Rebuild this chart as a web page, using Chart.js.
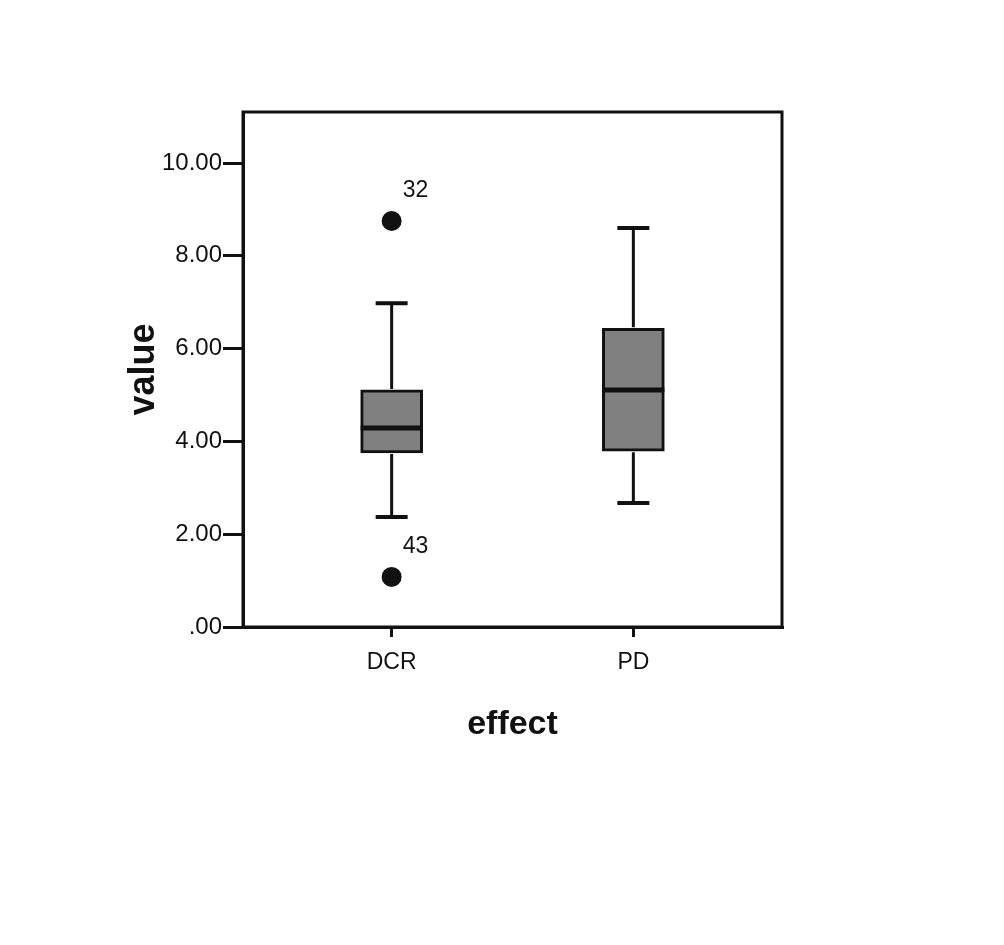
<!DOCTYPE html>
<html>
<head>
<meta charset="utf-8">
<script src="https://cdn.jsdelivr.net/npm/chart.js@4"></script>
<style>
    html, body { margin: 0; padding: 0; background: #fff; }
    #wrap { width: 1004px; height: 945px; }
</style>
</head>
<body>
<div id="wrap"><canvas id="boxChart" width="1004" height="945"></canvas></div>
<script>
// box plot summary per group
const groups = ['DCR', 'PD'];
const whiskerLow = [2.37, 2.67];
const q1 = [3.75, 3.79];
const medians = [4.29, 5.11];
const q3 = [5.11, 6.44];
const whiskerHigh = [6.98, 8.60];

// outliers: group index, value, case number
const outlierGroup = [0, 0];
const outlierValues = [8.75, 1.08];
const outlierIds = ['32', '43'];

const yTicks = [0, 2, 4, 6, 8, 10];

const INK = '#111';
const FONT = "'Liberation Sans', Arial, sans-serif";

// whiskers, caps and median lines, placed with the chart scales
const boxDetails = {
    id: 'boxDetails',
    afterDatasetsDraw(chart) {
        const ctx = chart.ctx;
        const y = chart.scales.y;
        const bars = chart.getDatasetMeta(0).data;
        ctx.save();
        ctx.strokeStyle = INK;
        bars.forEach((bar, i) => {
            const x = bar.x;
            const half = bar.width / 2;
            const yHi = y.getPixelForValue(whiskerHigh[i]);
            const yLo = y.getPixelForValue(whiskerLow[i]);
            const yQ3 = y.getPixelForValue(q3[i]);
            const yQ1 = y.getPixelForValue(q1[i]);
            const yMed = y.getPixelForValue(medians[i]);

            ctx.lineWidth = 3;
            ctx.beginPath();
            ctx.moveTo(x, yHi); ctx.lineTo(x, yQ3 - 1);
            ctx.moveTo(x, yQ1 + 1); ctx.lineTo(x, yLo);
            ctx.stroke();

            ctx.lineWidth = 4;
            ctx.beginPath();
            ctx.moveTo(x - 16, yHi); ctx.lineTo(x + 16, yHi);
            ctx.moveTo(x - 16, yLo); ctx.lineTo(x + 16, yLo);
            ctx.stroke();

            ctx.lineWidth = 5;
            ctx.beginPath();
            ctx.moveTo(x - half, yMed); ctx.lineTo(x + half, yMed);
            ctx.stroke();
        });

        // case numbers next to the outliers
        const pts = chart.getDatasetMeta(1).data;
        ctx.fillStyle = INK;
        ctx.font = '23px ' + FONT;
        ctx.textAlign = 'left';
        ctx.textBaseline = 'middle';
        pts.forEach((p, i) => {
            ctx.fillText(outlierIds[i], p.x + 11, p.y - 30);
        });
        ctx.restore();
    }
};

// closed frame round the plot area
const frame = {
    id: 'frame',
    afterDraw(chart) {
        const a = chart.chartArea;
        const ctx = chart.ctx;
        ctx.save();
        ctx.strokeStyle = INK;
        ctx.lineWidth = 3;
        ctx.strokeRect(a.left, a.top, a.right - a.left, a.bottom - a.top);
        ctx.restore();
    }
};

new Chart(document.getElementById('boxChart'), {
    type: 'bar',
    data: {
        datasets: [{
            label: 'box',
            data: groups.map((g, i) => ({ x: i, y: [q1[i], q3[i]] })),
            backgroundColor: '#808080',
            borderColor: INK,
            borderWidth: 3,
            borderSkipped: false,
            barThickness: 62
        }, {
            type: 'scatter',
            label: 'outliers',
            data: outlierValues.map((v, i) => ({ x: outlierGroup[i], y: v })),
            pointRadius: 10,
            pointBackgroundColor: INK,
            pointBorderWidth: 0
        }]
    },
    options: {
        responsive: false,
        animation: false,
        layout: { padding: { left: 0, top: 112, right: 222, bottom: 0 } },
        plugins: {
            legend: { display: false },
            tooltip: { enabled: false }
        },
        scales: {
            x: {
                type: 'linear',
                min: -0.615,
                max: 1.615,
                offset: false,
                afterBuildTicks: s => { s.ticks = groups.map((g, i) => ({ value: i })); },
                afterFit: s => { s.height = 318; },
                ticks: {
                    callback: v => groups[v],
                    color: INK,
                    font: { family: FONT, size: 23 },
                    padding: 12,
                    maxRotation: 0
                },
                grid: { offset: false, drawOnChartArea: false, tickLength: 10, color: INK, lineWidth: 3 },
                border: { color: INK, width: 3 },
                title: {
                    display: true,
                    text: 'effect',
                    color: INK,
                    font: { family: FONT, size: 34, weight: 'bold' },
                    padding: { top: 0, bottom: 200 }
                }
            },
            y: {
                min: 0,
                max: 11.1,
                afterBuildTicks: s => { s.ticks = yTicks.map(v => ({ value: v })); },
                afterFit: s => { s.width = 243; },
                ticks: {
                    callback: v => v === 0 ? '.00' : v.toFixed(2),
                    color: INK,
                    font: { family: FONT, size: 24 },
                    padding: 1
                },
                grid: { drawOnChartArea: false, tickLength: 20, color: INK, lineWidth: 3 },
                border: { color: INK, width: 3 },
                title: {
                    display: true,
                    text: 'value',
                    color: INK,
                    font: { family: FONT, size: 36, weight: 'bold' },
                    padding: { top: 122, bottom: 0 }
                }
            }
        }
    },
    plugins: [boxDetails, frame]
});
</script>
</body>
</html>
